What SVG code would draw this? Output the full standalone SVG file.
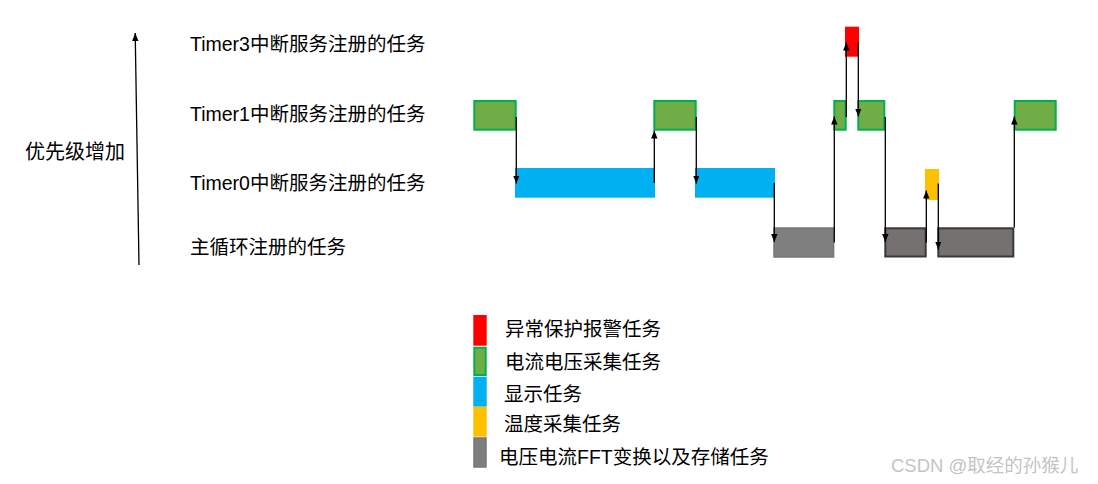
<svg xmlns="http://www.w3.org/2000/svg" width="1098" height="484" viewBox="0 0 1098 484">
<style>
text{font-family:"Liberation Sans","Noto Sans CJK SC",sans-serif;font-size:19.5px;fill:#000;dominant-baseline:central}
.g{fill:#70AD47;stroke:#00B050;stroke-width:2}
.b{fill:#00B0F0}
.r{fill:#FF0000}
.y{fill:#FFC000}
.k1{fill:#7F7F7F;stroke:#767676;stroke-width:1.5}
.k2{fill:#767171;stroke:#3B3838;stroke-width:2}
.c{stroke:#000;stroke-width:1.3;fill:none;marker-end:url(#ah)}
.wm{font-size:18.5px;fill:#c4c4c4}
</style>
<defs>
<marker id="ah" markerUnits="userSpaceOnUse" markerWidth="8" markerHeight="8" viewBox="0 0 8 8" refX="8" refY="4" orient="auto">
<path d="M0,0.8 L8,4 L0,7.2 Z" fill="#000"/>
</marker>
</defs>
<g id="axis">
<line x1="139" y1="265" x2="135.2" y2="33" class="c" stroke="#222"/>
<text x="25" y="152" style="font-size:20px">优先级增加</text>
</g>
<g id="labels">
<text x="190" y="44">Timer3中断服务注册的任务</text>
<text x="190" y="114">Timer1中断服务注册的任务</text>
<text x="190" y="183">Timer0中断服务注册的任务</text>
<text x="190" y="247">主循环注册的任务</text>
</g>
<g id="t1a"><rect class="g" x="474.3" y="101" width="41.4" height="28.7"/></g>
<g id="t0a"><rect class="b" x="515" y="168" width="140" height="29.7"/></g>
<g id="t1b"><rect class="g" x="654.3" y="101" width="41.4" height="28.7"/></g>
<g id="t0b"><rect class="b" x="695" y="168" width="80" height="29.7"/></g>
<g id="m1"><rect class="k1" x="774" y="228" width="59.6" height="29"/></g>
<g id="t1c"><rect class="g" x="834.3" y="101" width="11.4" height="28.7"/></g>
<g id="t3"><rect class="r" x="845" y="26.7" width="14" height="30"/></g>
<g id="t1d"><rect class="g" x="858.3" y="101" width="26" height="28.7"/></g>
<g id="m2"><rect class="k2" x="885.3" y="228.3" width="40.4" height="28.2"/></g>
<g id="temp"><rect class="y" x="925" y="169" width="14" height="31"/></g>
<g id="m3"><rect class="k2" x="938.3" y="228.3" width="75" height="28.2"/></g>
<g id="t1e"><rect class="g" x="1014.7" y="101" width="41" height="28.7"/></g>
<g id="connectors">
<line class="c" x1="516.3" y1="117" x2="516.3" y2="183.5"/>
<line class="c" x1="654.3" y1="183" x2="654.3" y2="130.5"/>
<line class="c" x1="696.3" y1="117" x2="696.3" y2="183.5"/>
<line class="c" x1="774.3" y1="183" x2="774.3" y2="242"/>
<line class="c" x1="834.3" y1="242.5" x2="834.3" y2="116.5"/>
<line class="c" x1="846.3" y1="117" x2="846.3" y2="42.5"/>
<line class="c" x1="858.3" y1="42.5" x2="858.3" y2="116.5"/>
<line class="c" x1="885.3" y1="117" x2="885.3" y2="242"/>
<line class="c" x1="926.3" y1="242.5" x2="926.3" y2="190.5"/>
<line class="c" x1="938.3" y1="183.5" x2="938.3" y2="249.5"/>
<line class="c" x1="1014.3" y1="227.5" x2="1014.3" y2="116.5"/>
</g>
<g id="legend">
<rect class="r" x="473.3" y="315" width="13.4" height="30.7"/>
<rect class="g" x="474.3" y="347.7" width="11.4" height="27.3"/>
<rect class="b" x="473.3" y="376.7" width="13.4" height="30"/>
<rect class="y" x="473.3" y="406.7" width="13.4" height="30"/>
<rect class="k1" x="474" y="438" width="12" height="29"/>
<text x="505" y="328.5">异常保护报警任务</text>
<text x="505" y="361.5">电流电压采集任务</text>
<text x="504" y="393.5">显示任务</text>
<text x="504" y="423.5">温度采集任务</text>
<text x="499" y="457">电压电流FFT变换以及存储任务</text>
</g>
<text class="wm" x="891" y="465">CSDN @取经的孙猴儿</text>
</svg>
